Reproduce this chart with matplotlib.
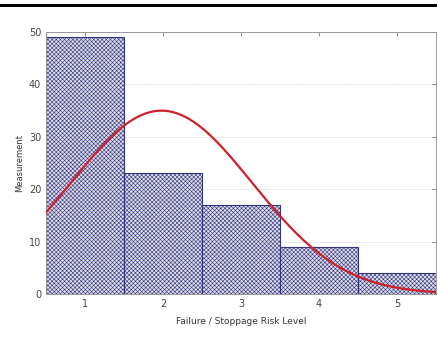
import numpy as np
import matplotlib.pyplot as plt

levels = [1, 2, 3, 4, 5]
counts = [49, 23, 17, 9, 4]
y_ticks = [0, 10, 20, 30, 40, 50]

# normal fit of the histogram (mean / std taken from the counts)
lv = np.array(levels, dtype=float)
ct = np.array(counts, dtype=float)
n_total = ct.sum()
mu = (lv * ct).sum() / n_total
sigma = np.sqrt((ct * (lv - mu) ** 2).sum() / n_total)
xs = np.linspace(0.5, 5.5, 300)
fit = n_total / (sigma * np.sqrt(2 * np.pi)) * np.exp(-(xs - mu) ** 2 / (2 * sigma ** 2))

plt.rcParams['hatch.color'] = '#8e8eaa'
plt.rcParams['hatch.linewidth'] = 0.4

fig = plt.figure(figsize=(4.37, 3.49), dpi=100)
ax = fig.add_axes([46 / 437, 1 - 294 / 349, 390 / 437, 262 / 349])

# black rule at the top of the page
fig.add_artist(plt.Rectangle((0, 1 - 7 / 349), 1, 3 / 349, transform=fig.transFigure,
                             color='black', lw=0))

ax.bar(levels, counts, width=1.0, facecolor='#dcdce8', edgecolor='#34347e',
       linewidth=0.8, hatch='xxxxxxxx', zorder=2)
ax.plot(xs, fit, color='#d0202a', lw=1.6, zorder=3)

ax.set_xlim(0.5, 5.5)
ax.set_ylim(0, 50)
ax.set_xticks(levels)
ax.set_yticks(y_ticks)
ax.grid(axis='y', linestyle=(0, (1, 1.5)), color='#c8c8c8', lw=0.6, zorder=0)
ax.tick_params(direction='in', length=3, width=0.6, colors='#777777',
               labelcolor='#444444', labelsize=7, top=True, right=True)
for s in ax.spines.values():
    s.set_color('#999999')
    s.set_linewidth(0.7)

ax.set_xlabel('Failure / Stoppage Risk Level', fontsize=6.5, color='#333333', labelpad=6)
ax.set_ylabel('Measurement', fontsize=6, color='#333333', labelpad=3)

fig.savefig('out.png', dpi=100)
